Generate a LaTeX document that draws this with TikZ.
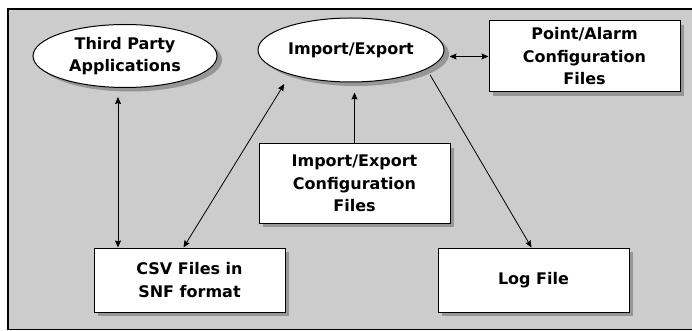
\documentclass[tikz,border=0pt]{standalone}
\usepackage{fontspec}
\setmainfont{DejaVu Sans}
\usetikzlibrary{shapes,arrows.meta,shadows}
\definecolor{panelgray}{RGB}{204,204,204}
\definecolor{shadegray}{RGB}{150,150,150}

\begin{document}
\begin{tikzpicture}[
    x=1pt, y=-1pt,
    every node/.style={font=\fontsize{16}{22.5}\selectfont\bfseries, align=center},
    fileblock/.style={rectangle, draw, line width=1pt, fill=white, minimum width=191pt,
                  inner sep=0pt,
                  drop shadow={shadow xshift=4pt, shadow yshift=-4pt, fill=shadegray, opacity=1}},
    appblock/.style={ellipse, draw, line width=1pt, fill=white, minimum width=184pt,
                  minimum height=63pt, inner sep=0pt,
                  drop shadow={shadow xshift=5pt, shadow yshift=-4pt, fill=shadegray, opacity=1}},
    arrow/.style={<->, >={Stealth[length=7pt, width=6pt, inset=1pt]}, line width=0.8pt},
    arrowup/.style={->, >={Stealth[length=7pt, width=6pt, inset=1pt]}, line width=0.8pt}
]
%% ── Frame ───────────────────────────────────────────────────────
\useasboundingbox (0,0) rectangle (692,331);
\fill[panelgray] (8,9) rectangle (692,330);
\draw[line width=1.6pt] (692,9) -- (8,9) -- (8,329.5) -- (692,329.5);

%% ── Nodes ───────────────────────────────────────────────────────
\node[appblock] (thirdparty) at (125,56)  {Third Party\\Applications};
\node[appblock, minimum width=186pt, minimum height=64pt]
                (impexp)     at (351,50)  {Import/Export};
\node[fileblock, minimum height=71pt]
                (pointalarm) at (584.5,56.5) {Point/Alarm\\Configuration\\Files};
\node[fileblock, minimum height=79pt]
                (impconf)    at (354.5,183.5) {Import/Export\\Configuration\\Files};
\node[fileblock, minimum height=64pt]
                (csvfiles)   at (189.5,280) {CSV Files in\\SNF format};
\node[fileblock, minimum height=64pt]
                (logfile)    at (533.5,280) {Log File};

%% ── Connectors ──────────────────────────────────────────────────
\draw[arrow, shorten >=9pt]
    ([xshift=-7pt]thirdparty.south |- csvfiles.north) -- ([xshift=-7pt]thirdparty.south);
\draw[arrow, shorten >=11pt] ([xshift=-6pt]csvfiles.north) -- (impexp.202);
\draw[arrowup, shorten >=10pt] (impconf.north) -- (impconf.north |- impexp.south);
\draw[arrow, shorten >=5pt] (pointalarm.west) -- (pointalarm.west -| impexp.east);
\draw[arrowup] ([shift={(5pt,-5pt)}]impexp.345) -- ([xshift=-2pt]logfile.north);

\end{tikzpicture}
\end{document}
